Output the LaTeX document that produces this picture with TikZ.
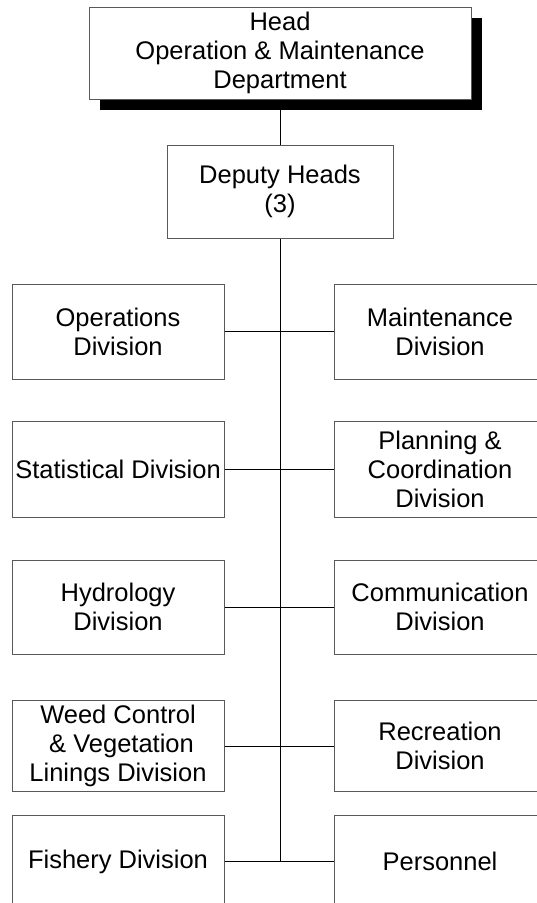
\documentclass[tikz,border=0pt]{standalone}
\usepackage{fontspec}
\setmainfont{Liberation Sans}
\begin{document}
\begin{tikzpicture}[x=1pt,y=-1pt,
  box/.style={draw=black!65, line width=1pt, fill=white, rectangle, align=center,
    inner sep=0pt, font=\fontsize{25.5}{29}\selectfont},
  divbox/.style={box, minimum width=212pt},
  link/.style={draw=black, line width=1pt}]
\useasboundingbox (0,0) rectangle (537,903);
\clip (0,0) rectangle (537,903);
% head with shadow
\fill[black] (100,18) rectangle (482,110);
\node[box, minimum width=382pt, minimum height=92pt] (head) at (280,53)
  {Head\\Operation \& Maintenance\\Department};
\node[box, minimum width=226pt, minimum height=93pt] (dep) at (280,191.5)
  {Deputy Heads\\(3)};
% divisions
\node[divbox, minimum height=95pt] (l1) at (118,331.5) {Operations\\Division};
\node[divbox, minimum height=95pt] (r1) at (440,331.5) {Maintenance\\Division};
\node[divbox, minimum height=96pt] (l2) at (118,469) {Statistical Division};
\node[divbox, minimum height=96pt] (r2) at (440,469) {Planning \&\\Coordination\\Division};
\node[divbox, minimum height=94pt] (l3) at (118,607) {Hydrology\\Division};
\node[divbox, minimum height=94pt] (r3) at (440,607) {Communication\\Division};
\node[divbox, minimum height=91pt] (l4) at (118,746) {Weed Control\\\ \& Vegetation\\Linings Division};
\node[divbox, minimum height=91pt] (r4) at (440,746) {Recreation\\Division};
\node[divbox, minimum height=93pt] (l5) at (118,861.5) {Fishery Division};
\node[divbox, minimum height=93pt] (r5) at (440,861.5) {Personnel};
\coordinate (bot) at (280,861.5);
% connectors
\draw[link] (head.south) -- (dep.north);
\draw[link] (dep.south) -- (bot);
\draw[link] (l1.east) -- (r1.west);
\draw[link] (l2.east) -- (r2.west);
\draw[link] (l3.east) -- (r3.west);
\draw[link] (l4.east) -- (r4.west);
\draw[link] (l5.east) -- (r5.west);
\end{tikzpicture}
\end{document}
